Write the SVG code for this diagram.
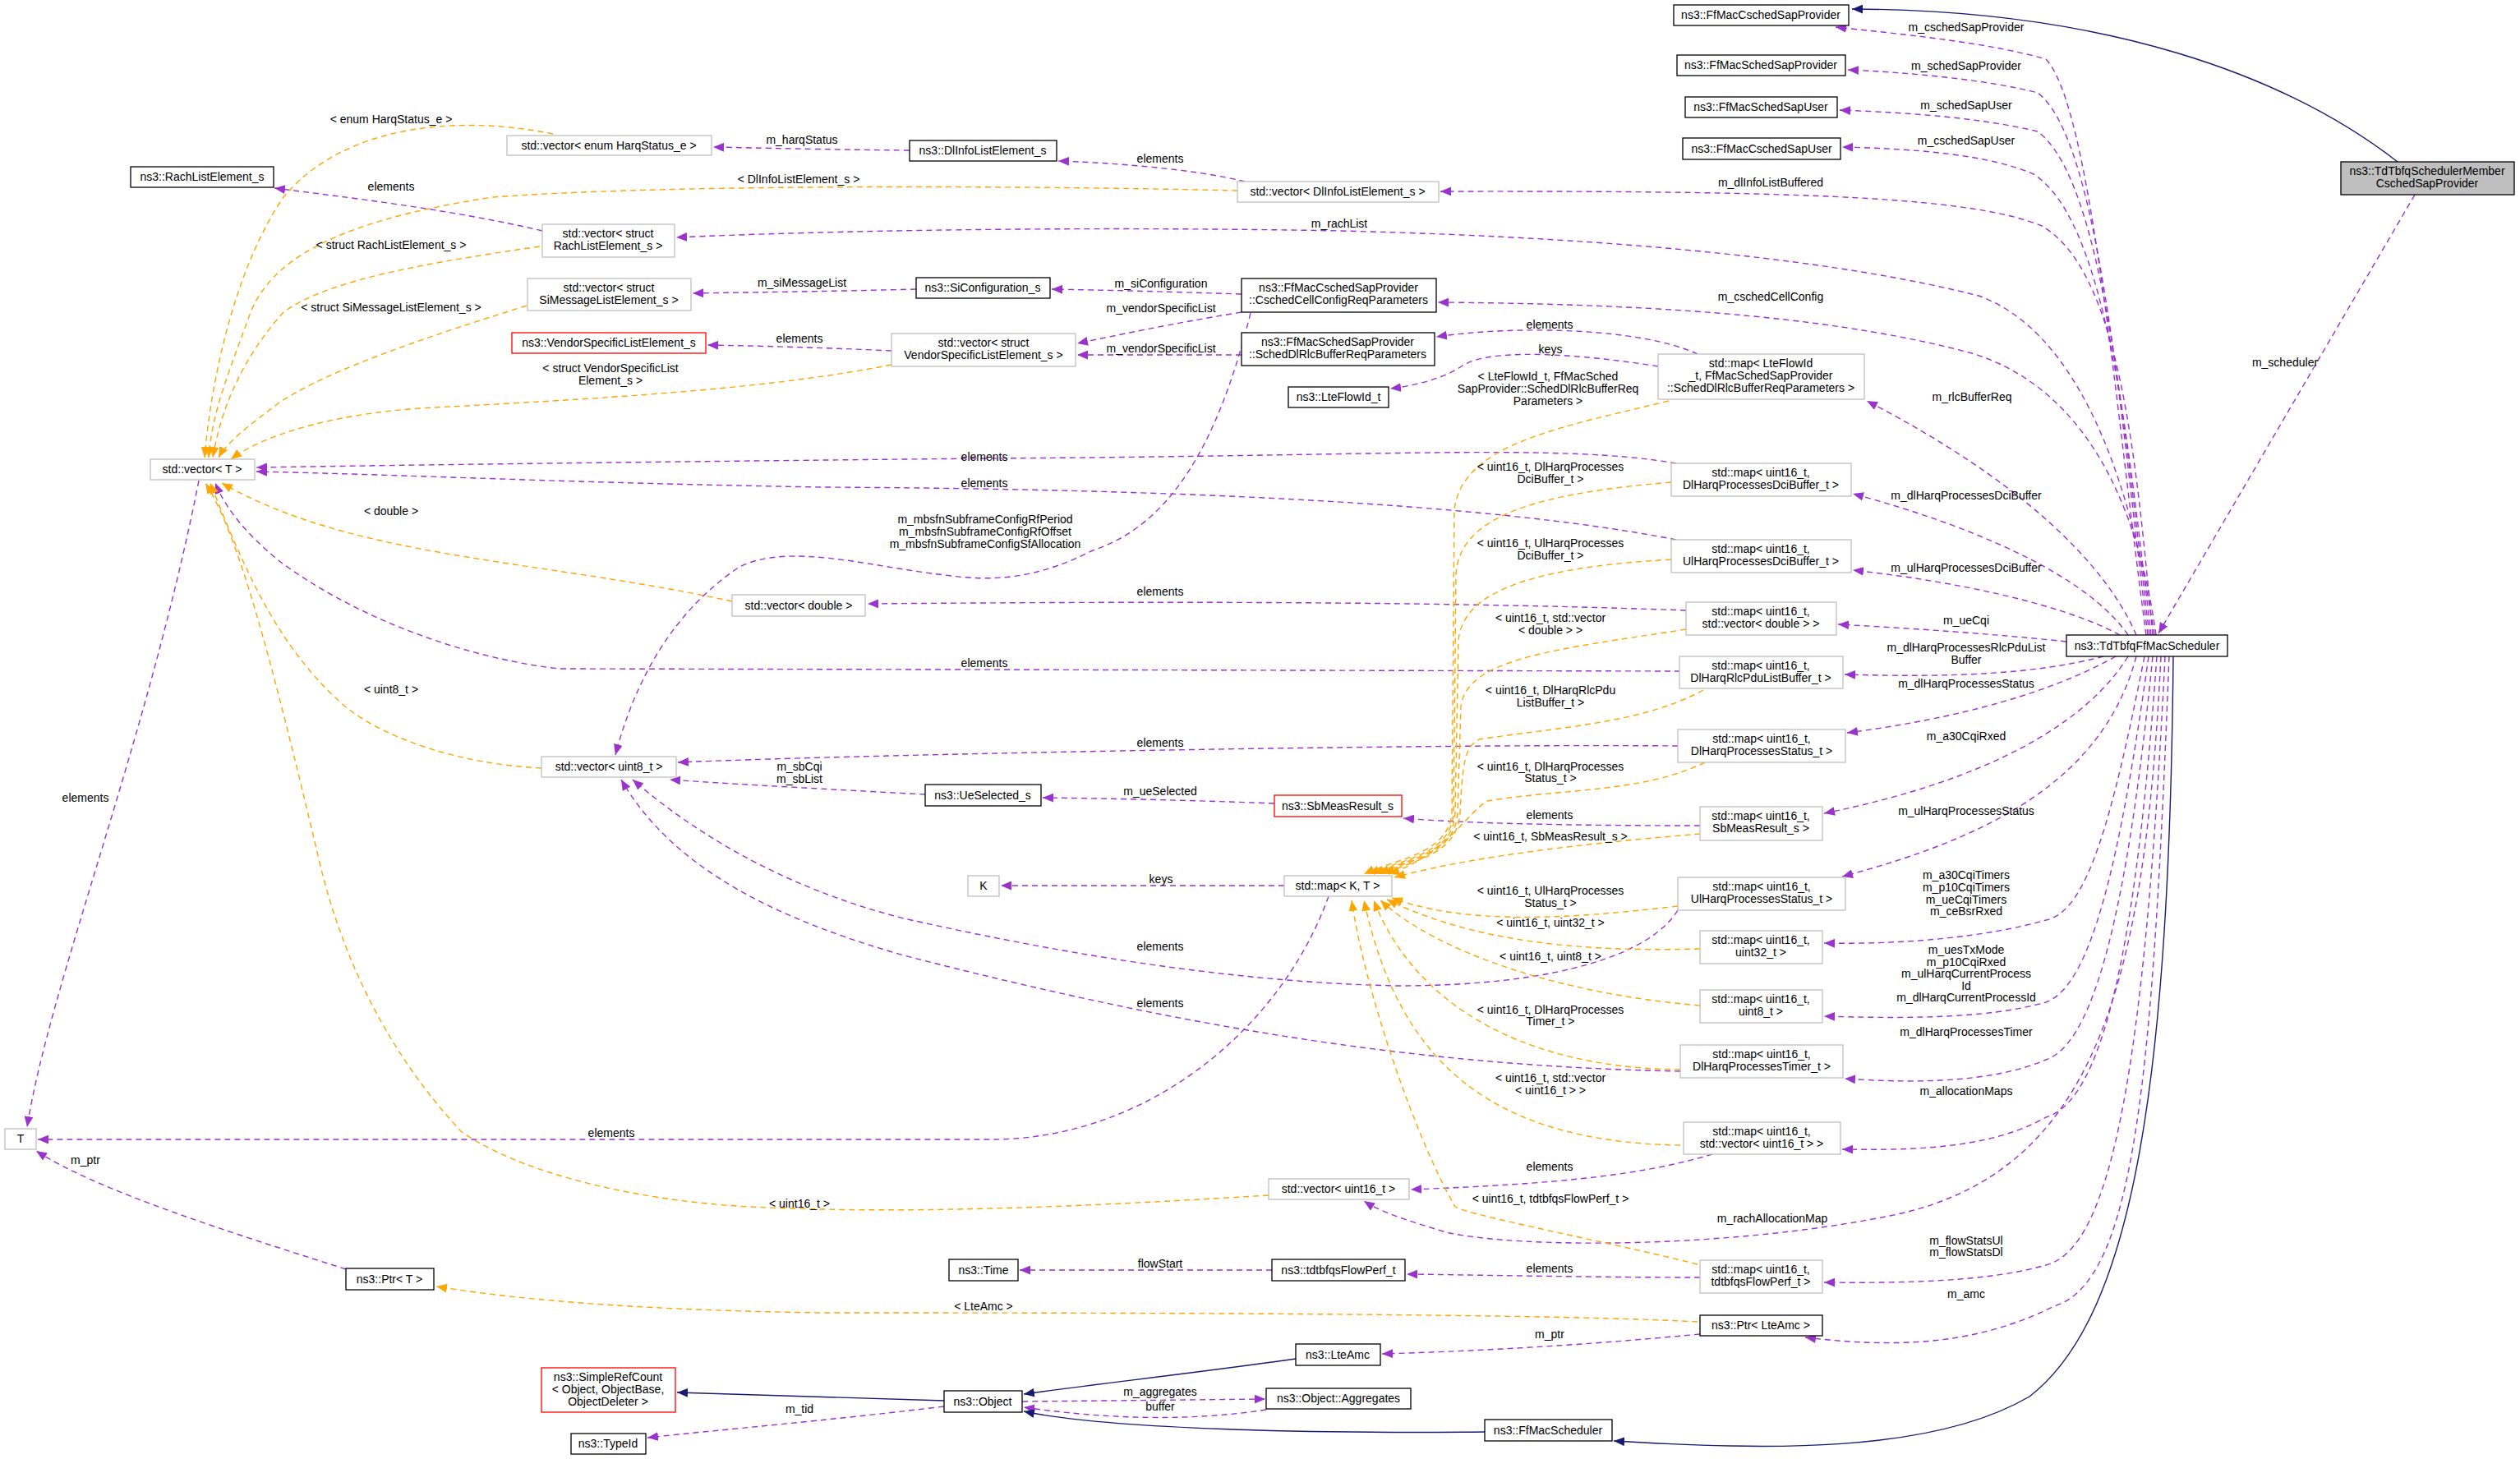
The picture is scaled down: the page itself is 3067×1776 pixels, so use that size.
<svg xmlns="http://www.w3.org/2000/svg" width="3067" height="1776" viewBox="0 0 3067 1776">
<style>
text{font-family:"Liberation Sans",Arial,sans-serif;font-size:14px;fill:#000;text-anchor:middle}
.n rect{fill:#fff;stroke:#000;stroke-width:1.3}
.g rect{fill:#fff;stroke:#bfbfbf;stroke-width:1.3}
.r rect{fill:#fff;stroke:#ff0000;stroke-width:1.3}
.h rect{fill:#bfbfbf;stroke:#000;stroke-width:1.3}
#edges path{fill:none;stroke-width:1.4}
.p{stroke:#9a32cd;stroke-dasharray:7,5;marker-end:url(#ap)}
.o{stroke:#ffa500;stroke-dasharray:7,5;marker-end:url(#ao)}
.v{stroke:#191970;marker-end:url(#av)}
</style>
<defs>
<marker id="ap" viewBox="0 0 12 10" refX="12" refY="5" markerWidth="13" markerHeight="11" markerUnits="userSpaceOnUse" orient="auto"><path d="M0,0L12,5L0,10z" fill="#9a32cd"/></marker>
<marker id="ao" viewBox="0 0 12 10" refX="12" refY="5" markerWidth="13" markerHeight="11" markerUnits="userSpaceOnUse" orient="auto"><path d="M0,0L12,5L0,10z" fill="#ffa500"/></marker>
<marker id="av" viewBox="0 0 12 10" refX="12" refY="5" markerWidth="13" markerHeight="11" markerUnits="userSpaceOnUse" orient="auto"><path d="M0,0L12,5L0,10z" fill="#191970"/></marker>
</defs>
<rect width="3067" height="1776" fill="#fff"/>
<g id="edges">
<path class="v" d="M2918,197 C2780,90 2560,12 2254,11"/>
<path class="p" d="M2939,237 L2627,771"/>
<path class="p" d="M2612,773 C2575,500 2545,130 2490,72 C2420,52 2320,42 2234,33"/>
<path class="p" d="M2614,773 C2580,500 2555,170 2480,113 C2420,97 2320,88 2249,85"/>
<path class="p" d="M2616,773 C2585,520 2560,220 2480,160 C2410,143 2320,137 2239,134"/>
<path class="p" d="M2618,773 C2590,540 2565,270 2475,212 C2420,188 2330,181 2242,179"/>
<path class="p" d="M2620,773 C2600,560 2580,330 2485,275 C2400,240 2200,232 1753,233"/>
<path class="p" d="M2622,773 C2590,560 2520,400 2408,360 C2250,320 2000,290 1631,281 C1300,275 1000,281 823,289"/>
<path class="p" d="M2624,773 C2600,600 2530,470 2400,430 C2250,390 2050,370 1750,368"/>
<path class="p" d="M2600,773 C2560,680 2450,580 2272,488"/>
<path class="p" d="M2590,773 C2540,700 2400,640 2255,601"/>
<path class="p" d="M2580,773 C2520,740 2400,710 2255,694"/>
<path class="p" d="M2515,781 C2430,772 2330,765 2237,760"/>
<path class="p" d="M2560,799 C2480,820 2380,825 2245,821"/>
<path class="p" d="M2575,799 C2520,830 2420,870 2248,892"/>
<path class="p" d="M2590,799 C2540,880 2420,950 2220,990"/>
<path class="p" d="M2600,799 C2560,950 2420,1020 2242,1067"/>
<path class="p" d="M2610,799 C2570,1000 2540,1110 2490,1120 C2420,1140 2320,1150 2220,1148"/>
<path class="p" d="M2615,799 C2580,1050 2545,1200 2490,1220 C2420,1240 2320,1240 2220,1237"/>
<path class="p" d="M2620,799 C2590,1100 2550,1270 2490,1290 C2420,1320 2320,1318 2245,1313"/>
<path class="p" d="M2625,799 C2600,1150 2560,1340 2490,1360 C2420,1400 2320,1400 2242,1399"/>
<path class="p" d="M2630,799 C2610,1200 2550,1430 2300,1480 C2100,1520 1850,1520 1760,1500 C1710,1485 1680,1475 1660,1462"/>
<path class="p" d="M2635,799 C2610,1300 2570,1520 2490,1540 C2420,1560 2320,1562 2220,1561"/>
<path class="p" d="M2640,799 C2620,1300 2600,1560 2500,1590 C2400,1640 2300,1640 2197,1628"/>
<path class="v" d="M2645,799 C2640,1300 2600,1600 2470,1700 C2350,1770 2150,1765 1964,1754"/>
<path class="p" d="M1107,183 C1000,182 920,180 868,179"/>
<path class="p" d="M1515,221 C1450,205 1350,198 1288,196"/>
<path class="p" d="M660,281 C550,255 420,240 334,229"/>
<path class="p" d="M1115,352 C1000,355 900,356 843,357"/>
<path class="p" d="M1511,358 C1420,355 1340,353 1280,352"/>
<path class="p" d="M1511,380 C1420,395 1360,408 1311,418"/>
<path class="p" d="M1511,432 L1311,432"/>
<path class="p" d="M1085,427 C1000,423 920,421 861,420"/>
<path class="p" d="M2066,431 C2000,400 1850,395 1748,410"/>
<path class="p" d="M2018,446 C1950,435 1820,420 1780,445 C1760,460 1720,470 1692,473"/>
<path class="p" d="M1522,381 C1480,550 1420,640 1330,670 C1270,700 1220,710 1150,700 C1060,690 960,660 900,690 C840,730 780,800 749,919"/>
<path class="p" d="M2040,564 C1900,540 1700,555 1200,558 C800,562 500,566 312,569"/>
<path class="p" d="M2040,657 C1800,610 1400,595 1000,593 C700,588 500,578 312,574"/>
<path class="p" d="M2052,743 C1700,730 1300,733 1056,735"/>
<path class="p" d="M2045,817 L680,814 C560,800 430,750 340,683 C300,650 275,620 262,588"/>
<path class="p" d="M2042,908 C1700,905 1000,920 825,928"/>
<path class="p" d="M1126,967 C1050,963 900,955 815,949"/>
<path class="p" d="M1551,978 C1450,974 1350,972 1269,971"/>
<path class="p" d="M2069,1005 C1900,1005 1780,1002 1708,996"/>
<path class="p" d="M1563,1078 L1218,1078"/>
<path class="p" d="M1617,1091 C1560,1250 1400,1385 1210,1387 L46,1387"/>
<path class="p" d="M2042,1108 C2010,1160 1900,1200 1700,1200 C1450,1195 1200,1140 1100,1118 C950,1080 840,1010 770,949"/>
<path class="p" d="M2045,1304 C1700,1298 1400,1240 1100,1163 C950,1120 820,1060 756,949"/>
<path class="p" d="M2084,1405 C2000,1430 1900,1441 1717,1448"/>
<path class="p" d="M2069,1555 C1950,1555 1800,1552 1712,1551"/>
<path class="p" d="M1548,1546 L1241,1546"/>
<path class="p" d="M2069,1624 C1900,1640 1780,1645 1682,1648"/>
<path class="p" d="M1244,1706 C1350,1705 1450,1704 1540,1703"/>
<path class="p" d="M1541,1716 C1450,1730 1350,1728 1246,1713"/>
<path class="p" d="M1149,1712 C1000,1730 880,1740 788,1750"/>
<path class="p" d="M421,1545 C280,1500 120,1450 44,1401"/>
<path class="p" d="M242,585 C180,900 60,1200 33,1372"/>
<path class="v" d="M1577,1654 C1450,1672 1330,1685 1246,1697"/>
<path class="v" d="M1807,1743 C1600,1745 1350,1740 1246,1718"/>
<path class="v" d="M1149,1705 C1000,1700 900,1697 824,1695"/>
<path class="o" d="M673,163 C560,140 420,150 345,240 C290,320 258,450 249,557"/>
<path class="o" d="M1506,232 C1200,225 800,225 600,240 C400,270 330,320 305,380 C280,450 258,500 254,557"/>
<path class="o" d="M657,300 C520,320 400,340 345,380 C300,430 270,490 259,557"/>
<path class="o" d="M641,372 C520,410 400,450 340,490 C300,520 275,540 266,557"/>
<path class="o" d="M1085,444 C950,470 800,482 510,497 C400,505 320,530 281,559"/>
<path class="o" d="M891,732 C650,680 430,680 270,588"/>
<path class="o" d="M659,935 C560,930 470,900 420,860 C340,790 300,700 256,588"/>
<path class="o" d="M1544,1455 C1300,1470 1100,1478 912,1469 C750,1460 620,1420 561,1377 C480,1290 420,1180 389,1050 C330,800 290,650 250,588"/>
<path class="o" d="M2066,1609 C1900,1600 1500,1598 1000,1598 C800,1595 650,1585 531,1566"/>
<path class="o" d="M2031,488 C1900,520 1780,540 1770,620 L1767,990 C1762,1040 1700,1045 1660,1064"/>
<path class="o" d="M2034,587 C1880,600 1775,625 1772,700 L1769,990 C1765,1040 1710,1045 1666,1064"/>
<path class="o" d="M2034,681 C1880,690 1780,715 1775,780 L1771,990 C1768,1040 1715,1045 1672,1064"/>
<path class="o" d="M2052,766 C1900,790 1785,800 1778,860 L1774,990 C1770,1040 1720,1045 1678,1064"/>
<path class="o" d="M2073,840 C2000,880 1900,885 1800,900 C1782,910 1780,930 1777,990 C1773,1040 1725,1045 1684,1064"/>
<path class="o" d="M2075,928 C2000,965 1900,960 1810,975 C1785,990 1760,1040 1690,1064"/>
<path class="o" d="M2069,1015 C1950,1025 1800,1040 1697,1068"/>
<path class="o" d="M2042,1103 C1900,1120 1780,1125 1694,1093"/>
<path class="o" d="M2069,1155 C1900,1160 1780,1140 1688,1095"/>
<path class="o" d="M2069,1224 C1900,1210 1750,1160 1680,1096"/>
<path class="o" d="M2045,1302 C1850,1300 1720,1220 1672,1096"/>
<path class="o" d="M2045,1394 C1800,1390 1700,1280 1660,1096"/>
<path class="o" d="M2066,1539 C1950,1510 1790,1480 1771,1469 C1720,1380 1660,1200 1645,1096"/>
</g>
<g id="edge-labels">
<text x="2393" y="38">m_cschedSapProvider</text>
<text x="2393" y="85">m_schedSapProvider</text>
<text x="2393" y="133">m_schedSapUser</text>
<text x="2393" y="176">m_cschedSapUser</text>
<text x="2155" y="227">m_dlInfoListBuffered</text>
<text x="1630" y="277">m_rachList</text>
<text x="2155" y="366">m_cschedCellConfig</text>
<text x="2400" y="488">m_rlcBufferReq</text>
<text x="2781" y="446">m_scheduler</text>
<text x="2393" y="608">m_dlHarqProcessesDciBuffer</text>
<text x="2393" y="696">m_ulHarqProcessesDciBuffer</text>
<text x="2393" y="760">m_ueCqi</text>
<text x="2393" y="793">m_dlHarqProcessesRlcPduList</text>
<text x="2393" y="808">Buffer</text>
<text x="2393" y="837">m_dlHarqProcessesStatus</text>
<text x="2393" y="901">m_a30CqiRxed</text>
<text x="2393" y="992">m_ulHarqProcessesStatus</text>
<text x="2393" y="1070">m_a30CqiTimers</text>
<text x="2393" y="1085">m_p10CqiTimers</text>
<text x="2393" y="1100">m_ueCqiTimers</text>
<text x="2393" y="1114">m_ceBsrRxed</text>
<text x="2393" y="1161">m_uesTxMode</text>
<text x="2393" y="1176">m_p10CqiRxed</text>
<text x="2393" y="1190">m_ulHarqCurrentProcess</text>
<text x="2393" y="1205">Id</text>
<text x="2393" y="1219">m_dlHarqCurrentProcessId</text>
<text x="2393" y="1261">m_dlHarqProcessesTimer</text>
<text x="2393" y="1333">m_allocationMaps</text>
<text x="2157" y="1488">m_rachAllocationMap</text>
<text x="2393" y="1515">m_flowStatsUl</text>
<text x="2393" y="1529">m_flowStatsDl</text>
<text x="2393" y="1580">m_amc</text>
<text x="976" y="175">m_harqStatus</text>
<text x="1412" y="198">elements</text>
<text x="476" y="232">elements</text>
<text x="976" y="349">m_siMessageList</text>
<text x="1413" y="350">m_siConfiguration</text>
<text x="1413" y="380">m_vendorSpecificList</text>
<text x="1413" y="429">m_vendorSpecificList</text>
<text x="973" y="417">elements</text>
<text x="1886" y="400">elements</text>
<text x="1887" y="430">keys</text>
<text x="1199" y="637">m_mbsfnSubframeConfigRfPeriod</text>
<text x="1199" y="652">m_mbsfnSubframeConfigRfOffset</text>
<text x="1199" y="667">m_mbsfnSubframeConfigSfAllocation</text>
<text x="1198" y="561">elements</text>
<text x="1198" y="593">elements</text>
<text x="1412" y="725">elements</text>
<text x="1198" y="812">elements</text>
<text x="1412" y="909">elements</text>
<text x="973" y="938">m_sbCqi</text>
<text x="973" y="953">m_sbList</text>
<text x="1412" y="968">m_ueSelected</text>
<text x="1886" y="997">elements</text>
<text x="1413" y="1075">keys</text>
<text x="1412" y="1157">elements</text>
<text x="1412" y="1226">elements</text>
<text x="744" y="1384">elements</text>
<text x="1886" y="1425">elements</text>
<text x="1886" y="1549">elements</text>
<text x="1412" y="1543">flowStart</text>
<text x="1886" y="1629">m_ptr</text>
<text x="1412" y="1699">m_aggregates</text>
<text x="1412" y="1717">buffer</text>
<text x="973" y="1720">m_tid</text>
<text x="104" y="1417">m_ptr</text>
<text x="104" y="976">elements</text>
<text x="476" y="150">&lt; enum HarqStatus_e &gt;</text>
<text x="972" y="223">&lt; DlInfoListElement_s &gt;</text>
<text x="476" y="303">&lt; struct RachListElement_s &gt;</text>
<text x="476" y="379">&lt; struct SiMessageListElement_s &gt;</text>
<text x="743" y="453">&lt; struct VendorSpecificList</text>
<text x="743" y="468">Element_s &gt;</text>
<text x="1884" y="463">&lt; LteFlowId_t, FfMacSched</text>
<text x="1884" y="478">SapProvider::SchedDlRlcBufferReq</text>
<text x="1884" y="493">Parameters &gt;</text>
<text x="1887" y="573">&lt; uint16_t, DlHarqProcesses</text>
<text x="1887" y="588">DciBuffer_t &gt;</text>
<text x="1887" y="666">&lt; uint16_t, UlHarqProcesses</text>
<text x="1887" y="681">DciBuffer_t &gt;</text>
<text x="1887" y="757">&lt; uint16_t, std::vector</text>
<text x="1887" y="772">&lt; double &gt; &gt;</text>
<text x="1887" y="845">&lt; uint16_t, DlHarqRlcPdu</text>
<text x="1887" y="860">ListBuffer_t &gt;</text>
<text x="1887" y="938">&lt; uint16_t, DlHarqProcesses</text>
<text x="1887" y="952">Status_t &gt;</text>
<text x="1887" y="1023">&lt; uint16_t, SbMeasResult_s &gt;</text>
<text x="1887" y="1089">&lt; uint16_t, UlHarqProcesses</text>
<text x="1887" y="1104">Status_t &gt;</text>
<text x="1887" y="1128">&lt; uint16_t, uint32_t &gt;</text>
<text x="1887" y="1169">&lt; uint16_t, uint8_t &gt;</text>
<text x="1887" y="1234">&lt; uint16_t, DlHarqProcesses</text>
<text x="1887" y="1248">Timer_t &gt;</text>
<text x="1887" y="1317">&lt; uint16_t, std::vector</text>
<text x="1887" y="1332">&lt; uint16_t &gt; &gt;</text>
<text x="1887" y="1464">&lt; uint16_t, tdtbfqsFlowPerf_t &gt;</text>
<text x="476" y="627">&lt; double &gt;</text>
<text x="476" y="844">&lt; uint8_t &gt;</text>
<text x="973" y="1470">&lt; uint16_t &gt;</text>
<text x="1197" y="1595">&lt; LteAmc &gt;</text>
</g>
<g id="n1" class="n"><rect x="2037" y="6" width="213" height="25"/><text x="2143" y="23">ns3::FfMacCschedSapProvider</text></g>
<g id="n2" class="n"><rect x="2041" y="67" width="205" height="25"/><text x="2143" y="84">ns3::FfMacSchedSapProvider</text></g>
<g id="n3" class="n"><rect x="2051" y="118" width="185" height="25"/><text x="2143" y="135">ns3::FfMacSchedSapUser</text></g>
<g id="n4" class="n"><rect x="2048" y="168" width="192" height="26"/><text x="2144" y="186">ns3::FfMacCschedSapUser</text></g>
<g id="n5" class="h"><rect x="2849" y="197" width="211" height="40"/><text x="2954" y="213">ns3::TdTbfqSchedulerMember</text><text x="2954" y="228">CschedSapProvider</text></g>
<g id="n6" class="n"><rect x="1107" y="171" width="179" height="25"/><text x="1196" y="188">ns3::DlInfoListElement_s</text></g>
<g id="n7" class="g"><rect x="617" y="165" width="249" height="24"/><text x="741" y="182">std::vector&lt; enum HarqStatus_e &gt;</text></g>
<g id="n8" class="n"><rect x="159" y="203" width="174" height="25"/><text x="246" y="220">ns3::RachListElement_s</text></g>
<g id="n9" class="g"><rect x="1506" y="221" width="245" height="25"/><text x="1628" y="238">std::vector&lt; DlInfoListElement_s &gt;</text></g>
<g id="n10" class="g"><rect x="660" y="273" width="161" height="40"/><text x="740" y="289">std::vector&lt; struct</text><text x="740" y="304">RachListElement_s &gt;</text></g>
<g id="n11" class="g"><rect x="642" y="339" width="199" height="39"/><text x="741" y="355">std::vector&lt; struct</text><text x="741" y="370">SiMessageListElement_s &gt;</text></g>
<g id="n12" class="n"><rect x="1115" y="338" width="163" height="25"/><text x="1196" y="355">ns3::SiConfiguration_s</text></g>
<g id="n13" class="n"><rect x="1511" y="339" width="237" height="41"/><text x="1629" y="355">ns3::FfMacCschedSapProvider</text><text x="1629" y="370">::CschedCellConfigReqParameters</text></g>
<g id="n14" class="r"><rect x="623" y="405" width="236" height="25"/><text x="741" y="422">ns3::VendorSpecificListElement_s</text></g>
<g id="n15" class="g"><rect x="1085" y="406" width="224" height="40"/><text x="1197" y="422">std::vector&lt; struct</text><text x="1197" y="437">VendorSpecificListElement_s &gt;</text></g>
<g id="n16" class="n"><rect x="1511" y="405" width="235" height="40"/><text x="1628" y="421">ns3::FfMacSchedSapProvider</text><text x="1628" y="436">::SchedDlRlcBufferReqParameters</text></g>
<g id="n17" class="n"><rect x="1568" y="471" width="122" height="25"/><text x="1629" y="488">ns3::LteFlowId_t</text></g>
<g id="n18" class="g"><rect x="2018" y="431" width="251" height="55"/><text x="2143" y="447">std::map&lt; LteFlowId</text><text x="2143" y="462">_t, FfMacSchedSapProvider</text><text x="2143" y="477">::SchedDlRlcBufferReqParameters &gt;</text></g>
<g id="n19" class="g"><rect x="183" y="559" width="127" height="25"/><text x="246" y="576">std::vector&lt; T &gt;</text></g>
<g id="n20" class="g"><rect x="2034" y="564" width="219" height="40"/><text x="2143" y="580">std::map&lt; uint16_t,</text><text x="2143" y="595">DlHarqProcessesDciBuffer_t &gt;</text></g>
<g id="n21" class="g"><rect x="2034" y="657" width="219" height="40"/><text x="2143" y="673">std::map&lt; uint16_t,</text><text x="2143" y="688">UlHarqProcessesDciBuffer_t &gt;</text></g>
<g id="n22" class="g"><rect x="2052" y="733" width="183" height="40"/><text x="2143" y="749">std::map&lt; uint16_t,</text><text x="2143" y="764">std::vector&lt; double &gt; &gt;</text></g>
<g id="n23" class="g"><rect x="2044" y="799" width="199" height="39"/><text x="2143" y="815">std::map&lt; uint16_t,</text><text x="2143" y="830">DlHarqRlcPduListBuffer_t &gt;</text></g>
<g id="n24" class="g"><rect x="2042" y="888" width="204" height="40"/><text x="2144" y="904">std::map&lt; uint16_t,</text><text x="2144" y="919">DlHarqProcessesStatus_t &gt;</text></g>
<g id="n25" class="g"><rect x="2069" y="982" width="149" height="41"/><text x="2143" y="998">std::map&lt; uint16_t,</text><text x="2143" y="1013">SbMeasResult_s &gt;</text></g>
<g id="n26" class="g"><rect x="2042" y="1068" width="204" height="40"/><text x="2144" y="1084">std::map&lt; uint16_t,</text><text x="2144" y="1099">UlHarqProcessesStatus_t &gt;</text></g>
<g id="n27" class="g"><rect x="2069" y="1133" width="149" height="40"/><text x="2143" y="1149">std::map&lt; uint16_t,</text><text x="2143" y="1164">uint32_t &gt;</text></g>
<g id="n28" class="g"><rect x="2069" y="1205" width="149" height="40"/><text x="2143" y="1221">std::map&lt; uint16_t,</text><text x="2143" y="1236">uint8_t &gt;</text></g>
<g id="n29" class="g"><rect x="2045" y="1272" width="198" height="40"/><text x="2144" y="1288">std::map&lt; uint16_t,</text><text x="2144" y="1303">DlHarqProcessesTimer_t &gt;</text></g>
<g id="n30" class="g"><rect x="2049" y="1366" width="191" height="39"/><text x="2144" y="1382">std::map&lt; uint16_t,</text><text x="2144" y="1397">std::vector&lt; uint16_t &gt; &gt;</text></g>
<g id="n31" class="g"><rect x="2069" y="1534" width="149" height="40"/><text x="2143" y="1550">std::map&lt; uint16_t,</text><text x="2143" y="1565">tdtbfqsFlowPerf_t &gt;</text></g>
<g id="n32" class="n"><rect x="2069" y="1601" width="149" height="25"/><text x="2143" y="1618">ns3::Ptr&lt; LteAmc &gt;</text></g>
<g id="n33" class="n"><rect x="2515" y="773" width="196" height="26"/><text x="2613" y="791">ns3::TdTbfqFfMacScheduler</text></g>
<g id="n34" class="g"><rect x="891" y="724" width="162" height="26"/><text x="972" y="742">std::vector&lt; double &gt;</text></g>
<g id="n35" class="g"><rect x="659" y="921" width="164" height="25"/><text x="741" y="938">std::vector&lt; uint8_t &gt;</text></g>
<g id="n36" class="n"><rect x="1126" y="955" width="141" height="26"/><text x="1196" y="973">ns3::UeSelected_s</text></g>
<g id="n37" class="r"><rect x="1551" y="968" width="155" height="26"/><text x="1628" y="986">ns3::SbMeasResult_s</text></g>
<g id="n38" class="g"><rect x="1178" y="1066" width="38" height="25"/><text x="1197" y="1083">K</text></g>
<g id="n39" class="g"><rect x="1563" y="1066" width="131" height="25"/><text x="1628" y="1083">std::map&lt; K, T &gt;</text></g>
<g id="n40" class="g"><rect x="6" y="1374" width="38" height="25"/><text x="25" y="1391">T</text></g>
<g id="n41" class="n"><rect x="421" y="1544" width="107" height="26"/><text x="474" y="1562">ns3::Ptr&lt; T &gt;</text></g>
<g id="n42" class="g"><rect x="1544" y="1435" width="171" height="25"/><text x="1629" y="1452">std::vector&lt; uint16_t &gt;</text></g>
<g id="n43" class="n"><rect x="1155" y="1533" width="84" height="26"/><text x="1197" y="1551">ns3::Time</text></g>
<g id="n44" class="n"><rect x="1548" y="1533" width="162" height="26"/><text x="1629" y="1551">ns3::tdtbfqsFlowPerf_t</text></g>
<g id="n45" class="n"><rect x="1577" y="1636" width="103" height="26"/><text x="1628" y="1654">ns3::LteAmc</text></g>
<g id="n46" class="r"><rect x="659" y="1665" width="163" height="54"/><text x="740" y="1681">ns3::SimpleRefCount</text><text x="740" y="1696">&lt; Object, ObjectBase,</text><text x="740" y="1711">ObjectDeleter &gt;</text></g>
<g id="n47" class="n"><rect x="1149" y="1693" width="95" height="26"/><text x="1196" y="1711">ns3::Object</text></g>
<g id="n48" class="n"><rect x="1541" y="1690" width="176" height="25"/><text x="1629" y="1707">ns3::Object::Aggregates</text></g>
<g id="n49" class="n"><rect x="695" y="1745" width="91" height="25"/><text x="740" y="1762">ns3::TypeId</text></g>
<g id="n50" class="n"><rect x="1807" y="1728" width="155" height="26"/><text x="1884" y="1746">ns3::FfMacScheduler</text></g>
</svg>
